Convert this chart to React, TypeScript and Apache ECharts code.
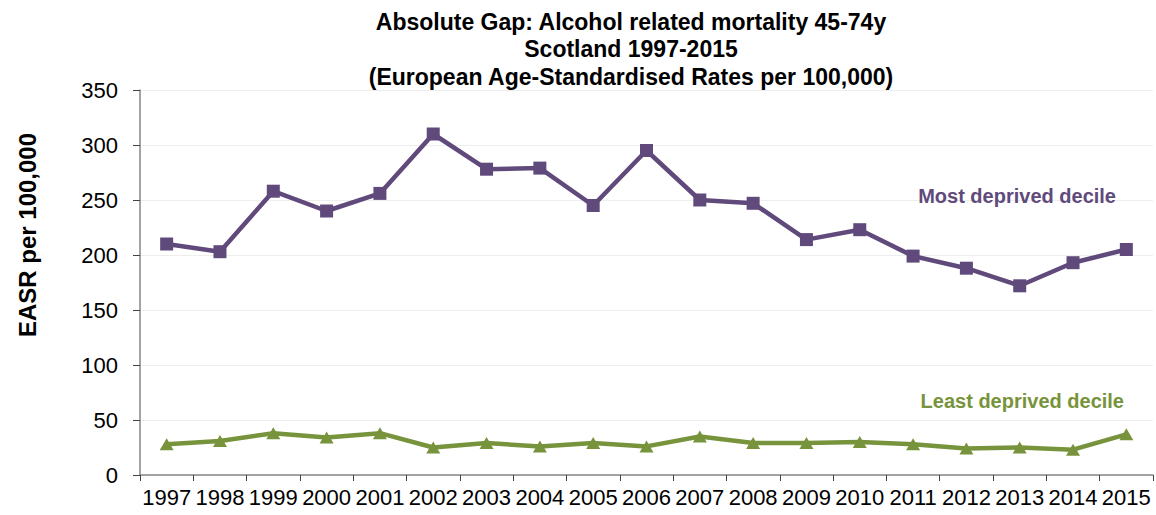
import React, { useEffect, useRef } from "react";
import * as echarts from "echarts";

const years = ["1997","1998","1999","2000","2001","2002","2003","2004","2005","2006","2007","2008","2009","2010","2011","2012","2013","2014","2015"];
const mostDeprived = [210, 203, 258, 240, 256, 310, 278, 279, 245, 295, 250, 247, 214, 223, 199, 188, 172, 193, 205];
const leastDeprived = [28, 31, 38, 34, 38, 25, 29, 26, 29, 26, 35, 29, 29, 30, 28, 24, 25, 23, 37];
const yTicks = [0, 50, 100, 150, 200, 250, 300, 350];

const titleLines = [
  "Absolute Gap: Alcohol related mortality 45-74y",
  "Scotland 1997-2015",
  "(European Age-Standardised Rates per 100,000)",
];
const yAxisTitle = "EASR per 100,000";
const mostLabel = "Most deprived decile";
const leastLabel = "Least deprived decile";

const PURPLE = "#604a7b";
const GREEN = "#77933c";
const FONT = "'Liberation Sans', Arial, sans-serif";

export default function App() {
  const ref = useRef<HTMLDivElement>(null);
  useEffect(() => {
    document.body.style.margin = "0";
    if (!ref.current) return;
    const chart = echarts.init(ref.current, null, { renderer: "svg" });
    chart.setOption({
      animation: false,
      backgroundColor: "#ffffff",
      textStyle: { fontFamily: FONT },
      title: {
        text: titleLines.join("\n"),
        left: 626,
        textAlign: "center",
        top: 3,
        textStyle: { fontFamily: FONT, fontSize: 23, fontWeight: "bold", color: "#000", lineHeight: 27.5 },
      },
      grid: { left: 140, right: 3, top: 90, bottom: 40, containLabel: false },
      xAxis: {
        type: "category",
        data: years,
        boundaryGap: true,
        axisLine: { lineStyle: { color: "#868686", width: 1.5 } },
        axisTick: { show: true, length: 6, lineStyle: { color: "#444" } },
        axisLabel: { color: "#000", fontSize: 22, margin: 11, interval: 0, fontFamily: FONT },
        splitLine: { show: false },
      },
      yAxis: {
        type: "value",
        min: yTicks[0],
        max: yTicks[yTicks.length - 1],
        interval: 50,
        axisLine: { show: true, lineStyle: { color: "#868686", width: 1.5 } },
        axisTick: { show: true, length: 7, lineStyle: { color: "#444" } },
        axisLabel: { color: "#000", fontSize: 22, margin: 22, fontFamily: FONT },
        splitLine: { show: true, lineStyle: { color: "#eeeeee", width: 1 } },
      },
      graphic: [
        {
          type: "text",
          x: 27,
          y: 235,
          z: 100,
          rotation: Math.PI / 2,
          style: {
            text: yAxisTitle,
            fontFamily: FONT,
            fontSize: 24,
            fontWeight: "bold",
            fill: "#000",
            align: "center",
            verticalAlign: "middle",
          },
        },
        {
          type: "text",
          x: 1116,
          y: 196,
          z: 100,
          style: {
            text: mostLabel,
            fontFamily: FONT,
            fontSize: 20,
            fontWeight: "bold",
            fill: PURPLE,
            align: "right",
            verticalAlign: "middle",
          },
        },
        {
          type: "text",
          x: 1124,
          y: 401,
          z: 100,
          style: {
            text: leastLabel,
            fontFamily: FONT,
            fontSize: 20,
            fontWeight: "bold",
            fill: GREEN,
            align: "right",
            verticalAlign: "middle",
          },
        },
      ],
      series: [
        {
          name: mostLabel,
          type: "line",
          data: mostDeprived,
          symbol: "rect",
          symbolSize: 13,
          lineStyle: { color: PURPLE, width: 4.5 },
          itemStyle: { color: PURPLE },
        },
        {
          name: leastLabel,
          type: "line",
          data: leastDeprived,
          symbol: "triangle",
          symbolSize: [14, 12],
          lineStyle: { color: GREEN, width: 4.5 },
          itemStyle: { color: GREEN },
        },
      ],
    });
    return () => chart.dispose();
  }, []);
  return <div ref={ref} style={{ width: 1156, height: 515 }} />;
}
